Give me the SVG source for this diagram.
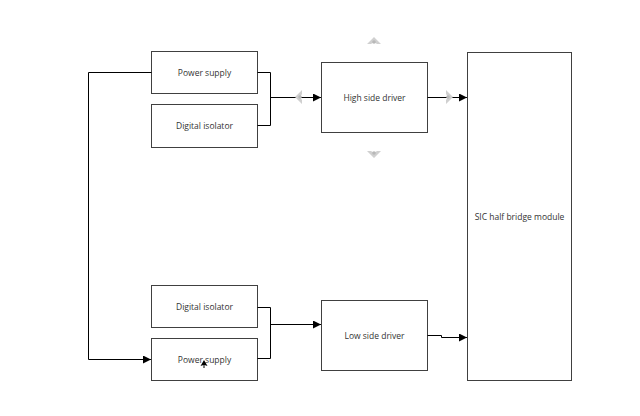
<svg xmlns="http://www.w3.org/2000/svg" width="640" height="416" viewBox="0 0 640 416">
<defs>
<style>
.box{fill:#fff;stroke:#404040;stroke-width:1}
.lbl{font-family:"Open Sans","Liberation Sans",Arial,sans-serif;font-size:8.5px;fill:#333;text-anchor:middle;dominant-baseline:central}
.wire{fill:none;stroke:#000;stroke-width:1}
.ghost{fill:#d0d0d0;stroke:none}
.gdot{fill:#b8b8b8;stroke:none}
</style>
<marker id="arr" viewBox="0 0 10 10" refX="10" refY="5" markerWidth="8" markerHeight="8" markerUnits="userSpaceOnUse" orient="auto">
<path d="M0,0 L10,5 L0,10 z" fill="#000"/>
</marker>
</defs>
<rect width="640" height="416" fill="#fff"/>
<g id="ps-top"><rect class="box" x="151.5" y="51.5" width="106" height="42"/><text class="lbl" x="204.5" y="72.5">Power supply</text></g>
<g id="iso-top"><rect class="box" x="151.5" y="104.5" width="106" height="43"/><text class="lbl" x="204.5" y="125.5">Digital isolator</text></g>
<g id="hs-driver"><rect class="box" x="321.5" y="62.5" width="106" height="70"/><text class="lbl" x="374.5" y="97">High side driver</text></g>
<g id="iso-bot"><rect class="box" x="151.5" y="285.5" width="106" height="42"/><text class="lbl" x="204.5" y="306.5">Digital isolator</text></g>
<g id="ps-bot"><rect class="box" x="151.5" y="338.5" width="106" height="42"/><text class="lbl" x="204.5" y="359">Power supply</text></g>
<g id="ls-driver"><rect class="box" x="321.5" y="300.5" width="106" height="70"/><text class="lbl" x="374.5" y="335">Low side driver</text></g>
<g id="sic"><rect class="box" x="467.5" y="52.5" width="104" height="328"/><text class="lbl" x="519.5" y="216">SIC half bridge module</text></g>
<g id="connectors">
<path class="wire" d="M257.5,72.5 H270.5 V125.5 H257.5"/>
<path class="wire" d="M270.5,97.5 H321" marker-end="url(#arr)"/>
<path class="wire" d="M151.5,72.5 H88.5 V359.5 H151" marker-end="url(#arr)"/>
<path class="wire" d="M257.5,307.5 H270.5 V358.5 H257.5"/>
<path class="wire" d="M270.5,324.5 H321" marker-end="url(#arr)"/>
<path class="wire" d="M427.5,97.5 H467" marker-end="url(#arr)"/>
<path class="wire" d="M427.5,335.5 H441.5 V337.5 H467" marker-end="url(#arr)"/>
</g>
<g id="hover-hints">
<path class="ghost" d="M367,44 L374,37 L381,44 L377,44 L374,42 L371,44 z"/>
<circle class="gdot" cx="374" cy="42" r="1.8"/>
<path class="ghost" d="M367,151 L374,158 L381,151 L377,151 L374,153 L371,151 z"/>
<circle class="gdot" cx="374" cy="153" r="1.8"/>
<path class="ghost" d="M302,90 L295,97 L302,104 L302,100 L300,97 L302,94 z"/>
<circle class="gdot" cx="300" cy="97" r="1.8"/>
<path class="ghost" d="M446,90 L453,97 L446,104 L446,100 L448,97 L446,94 z"/>
<circle class="gdot" cx="448" cy="97" r="1.8"/>
</g>
<g id="cursor"><path d="M204,360 L200.5,366 L203.5,365 L203.5,368 L204.5,368 L204.5,365 L207.5,366 z" fill="#000"/></g>
</svg>
